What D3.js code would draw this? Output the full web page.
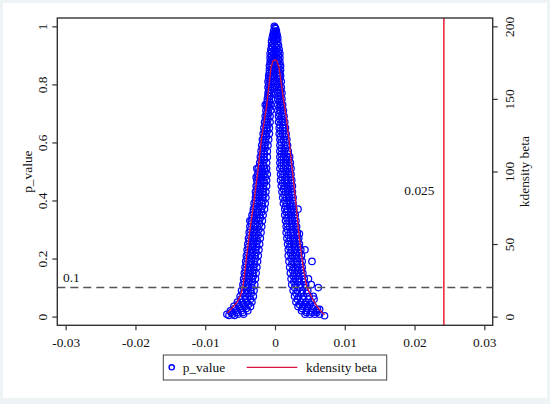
<!DOCTYPE html>
<html>
<head>
<meta charset="utf-8">
<script src="https://cdn.jsdelivr.net/npm/d3@7"></script>
<style>
  body { margin: 0; background: #eef4f5; }
  svg { display: block; }
  text { font-family: "Liberation Serif", "Times New Roman", serif; fill: #111; }
</style>
</head>
<body>
<svg id="chart" width="550" height="404"></svg>
<script>
// tick values
var xTicks = [-0.03, -0.02, -0.01, 0, 0.01, 0.02, 0.03];
var pTicks = [0, 0.2, 0.4, 0.6, 0.8, 1];
var densTicks = [0, 50, 100, 150, 200];

// reference lines
var pCut = 0.1;
var betaCut = 0.0242;

// p_value scatter, one row per p level: [p, beta, beta, ...]
var topRows = [
  [1.000, -0.0001],
  [0.996, 0.0000],
  [0.992, 0.0001],
  [0.984, -0.0002, 0.0002],
  [0.978, -0.0001, 0.0001],
  [0.972, -0.0003, 0.0000, 0.0003],
  [0.966, -0.0002, 0.0002],
  [0.960, -0.0004, 0.0000, 0.0004],
  [0.954, -0.0002, 0.0002],
  [0.948, -0.0005, -0.0001, 0.0004],
  [0.940, -0.0003, 0.0003],
  [0.934, -0.0005, 0.0000, 0.0005],
  [0.926, -0.0004, 0.0002],
  [0.920, -0.0006, -0.0001, 0.0006],
  [0.912, -0.0005, 0.0000, 0.0005],
  [0.906, -0.0007, -0.0002, 0.0003, 0.0007],
  [0.898, -0.0005, 0.0000, 0.0005],
  [0.892, -0.0007, -0.0003, 0.0002, 0.0007],
  [0.884, -0.0006, -0.0001, 0.0005],
  [0.878, -0.0007, -0.0003, 0.0003, 0.0007],
  [0.870, -0.0006, 0.0000, 0.0006],
  [0.864, -0.0008, -0.0004, 0.0004, 0.0008]
];

var leftRows = [
  [0.85, -0.0008, -0.0005, -0.0002],
  [0.84, -0.0008, -0.0005],
  [0.83, -0.0009, -0.0006, -0.0003],
  [0.82, -0.0009, -0.0006],
  [0.81, -0.0010, -0.0007, -0.0004],
  [0.80, -0.0009, -0.0006],
  [0.79, -0.0010, -0.0007, -0.0004],
  [0.78, -0.0009, -0.0006],
  [0.77, -0.0010, -0.0008, -0.0005],
  [0.76, -0.0010, -0.0007],
  [0.75, -0.0011, -0.0008, -0.0005],
  [0.74, -0.0011, -0.0008],
  [0.73, -0.0012, -0.0009, -0.0006],
  [0.72, -0.0011, -0.0008],
  [0.71, -0.0013, -0.0010, -0.0006],
  [0.70, -0.0012, -0.0009],
  [0.69, -0.0014, -0.0011, -0.0007],
  [0.68, -0.0013, -0.0010],
  [0.67, -0.0015, -0.0012, -0.0007],
  [0.66, -0.0014, -0.0010],
  [0.65, -0.0016, -0.0012, -0.0008],
  [0.64, -0.0015, -0.0011],
  [0.63, -0.0017, -0.0013, -0.0008],
  [0.62, -0.0016, -0.0012],
  [0.61, -0.0018, -0.0014, -0.0009],
  [0.60, -0.0017, -0.0013],
  [0.59, -0.0019, -0.0015, -0.0010],
  [0.58, -0.0018, -0.0014],
  [0.57, -0.0020, -0.0016, -0.0011],
  [0.56, -0.0019, -0.0015],
  [0.55, -0.0021, -0.0016, -0.0011],
  [0.54, -0.0020, -0.0015],
  [0.53, -0.0022, -0.0017, -0.0012],
  [0.52, -0.0021, -0.0016],
  [0.51, -0.0024, -0.0019, -0.0015, -0.0012],
  [0.50, -0.0023, -0.0018, -0.0014],
  [0.49, -0.0025, -0.0020, -0.0016, -0.0011],
  [0.48, -0.0024, -0.0019, -0.0014],
  [0.47, -0.0026, -0.0021, -0.0017, -0.0012],
  [0.46, -0.0025, -0.0020, -0.0015],
  [0.45, -0.0027, -0.0022, -0.0017, -0.0012],
  [0.44, -0.0026, -0.0021, -0.0016],
  [0.43, -0.0028, -0.0023, -0.0018, -0.0013],
  [0.42, -0.0027, -0.0022, -0.0016],
  [0.41, -0.0028, -0.0023, -0.0018, -0.0013],
  [0.40, -0.0028, -0.0022, -0.0017],
  [0.39, -0.0030, -0.0025, -0.0019, -0.0014],
  [0.38, -0.0029, -0.0023, -0.0018],
  [0.37, -0.0031, -0.0026, -0.0020, -0.0015],
  [0.36, -0.0031, -0.0025, -0.0019],
  [0.35, -0.0033, -0.0027, -0.0022, -0.0017],
  [0.34, -0.0032, -0.0026, -0.0021],
  [0.33, -0.0034, -0.0029, -0.0023, -0.0018],
  [0.32, -0.0034, -0.0028, -0.0022],
  [0.31, -0.0036, -0.0030, -0.0025, -0.0019],
  [0.30, -0.0035, -0.0029, -0.0023],
  [0.29, -0.0037, -0.0031, -0.0026, -0.0020],
  [0.28, -0.0036, -0.0030, -0.0024],
  [0.27, -0.0038, -0.0032, -0.0027, -0.0021],
  [0.26, -0.0037, -0.0031, -0.0025],
  [0.25, -0.0039, -0.0033, -0.0027, -0.0022],
  [0.24, -0.0038, -0.0032, -0.0026],
  [0.23, -0.0040, -0.0034, -0.0028, -0.0023],
  [0.22, -0.0039, -0.0033, -0.0027],
  [0.21, -0.0041, -0.0035, -0.0029, -0.0024],
  [0.20, -0.0040, -0.0034, -0.0028],
  [0.19, -0.0042, -0.0036, -0.0030, -0.0025],
  [0.18, -0.0041, -0.0035, -0.0029],
  [0.17, -0.0043, -0.0037, -0.0031, -0.0026],
  [0.16, -0.0042, -0.0036, -0.0030],
  [0.15, -0.0044, -0.0038, -0.0032, -0.0027],
  [0.14, -0.0043, -0.0037, -0.0031],
  [0.13, -0.0045, -0.0039, -0.0033, -0.0028],
  [0.12, -0.0044, -0.0038, -0.0032],
  [0.11, -0.0046, -0.0040, -0.0034, -0.0029],
  [0.10, -0.0045, -0.0039, -0.0033],
  [0.09, -0.0048, -0.0041, -0.0035, -0.0030],
  [0.08, -0.0046, -0.0040, -0.0034],
  [0.07, -0.0050, -0.0043, -0.0037, -0.0031],
  [0.06, -0.0049, -0.0042, -0.0035],
  [0.05, -0.0054, -0.0047, -0.0040, -0.0033],
  [0.042, -0.0053, -0.0045, -0.0038],
  [0.035, -0.0059, -0.0051, -0.0043, -0.0035],
  [0.028, -0.0058, -0.0049, -0.0041],
  [0.02, -0.0064, -0.0056, -0.0048, -0.0039],
  [0.014, -0.0063, -0.0054, -0.0046],
  [0.008, -0.0069, -0.0061, -0.0053, -0.0045],
  [0.004, -0.0066, -0.0058]
];

var rightRows = [
  [0.85, 0.0002, 0.0005, 0.0008],
  [0.84, 0.0004, 0.0007],
  [0.83, 0.0003, 0.0006, 0.0008],
  [0.82, 0.0004, 0.0007],
  [0.81, 0.0003, 0.0006, 0.0009],
  [0.80, 0.0004, 0.0007],
  [0.79, 0.0003, 0.0006, 0.0009],
  [0.78, 0.0005, 0.0008],
  [0.77, 0.0004, 0.0007, 0.0010],
  [0.76, 0.0005, 0.0008],
  [0.75, 0.0004, 0.0007, 0.0010],
  [0.74, 0.0006, 0.0009],
  [0.73, 0.0004, 0.0008, 0.0011],
  [0.72, 0.0006, 0.0010],
  [0.71, 0.0004, 0.0008, 0.0012],
  [0.70, 0.0006, 0.0011],
  [0.69, 0.0005, 0.0009, 0.0013],
  [0.68, 0.0007, 0.0011],
  [0.67, 0.0005, 0.0010, 0.0014],
  [0.66, 0.0007, 0.0012],
  [0.65, 0.0006, 0.0011, 0.0015],
  [0.64, 0.0008, 0.0013],
  [0.63, 0.0006, 0.0011, 0.0016],
  [0.62, 0.0008, 0.0014],
  [0.61, 0.0007, 0.0012, 0.0017],
  [0.60, 0.0009, 0.0015],
  [0.59, 0.0007, 0.0013, 0.0018],
  [0.58, 0.0009, 0.0015],
  [0.57, 0.0007, 0.0013, 0.0019],
  [0.56, 0.0009, 0.0014, 0.0019],
  [0.55, 0.0007, 0.0012, 0.0017, 0.0021],
  [0.54, 0.0009, 0.0015, 0.0020],
  [0.53, 0.0007, 0.0012, 0.0017, 0.0022],
  [0.52, 0.0009, 0.0015, 0.0021],
  [0.51, 0.0007, 0.0012, 0.0018, 0.0023],
  [0.50, 0.0010, 0.0016, 0.0021],
  [0.49, 0.0008, 0.0013, 0.0019, 0.0023],
  [0.48, 0.0010, 0.0016, 0.0022],
  [0.47, 0.0008, 0.0014, 0.0019, 0.0024],
  [0.46, 0.0011, 0.0017, 0.0023],
  [0.45, 0.0009, 0.0014, 0.0020, 0.0025],
  [0.44, 0.0012, 0.0018, 0.0023],
  [0.43, 0.0010, 0.0015, 0.0020, 0.0025],
  [0.42, 0.0013, 0.0019, 0.0024],
  [0.41, 0.0011, 0.0016, 0.0021, 0.0026],
  [0.40, 0.0014, 0.0020, 0.0025],
  [0.39, 0.0012, 0.0017, 0.0022, 0.0026],
  [0.38, 0.0015, 0.0021, 0.0025],
  [0.37, 0.0014, 0.0018, 0.0023, 0.0027, 0.0033],
  [0.36, 0.0016, 0.0022, 0.0027],
  [0.35, 0.0014, 0.0019, 0.0024, 0.0029],
  [0.34, 0.0017, 0.0023, 0.0028],
  [0.33, 0.0015, 0.0020, 0.0025, 0.0030],
  [0.32, 0.0017, 0.0024, 0.0029],
  [0.31, 0.0016, 0.0021, 0.0026, 0.0031],
  [0.30, 0.0018, 0.0025, 0.0030],
  [0.29, 0.0016, 0.0022, 0.0027, 0.0032],
  [0.28, 0.0019, 0.0026, 0.0032],
  [0.27, 0.0017, 0.0022, 0.0028, 0.0034],
  [0.26, 0.0020, 0.0027, 0.0033],
  [0.25, 0.0018, 0.0023, 0.0029, 0.0035],
  [0.24, 0.0021, 0.0028, 0.0034],
  [0.23, 0.0019, 0.0024, 0.0030, 0.0037, 0.0043],
  [0.22, 0.0022, 0.0029, 0.0035],
  [0.21, 0.0019, 0.0025, 0.0031, 0.0038],
  [0.20, 0.0023, 0.0030, 0.0036],
  [0.19, 0.0020, 0.0026, 0.0032, 0.0039, 0.0053],
  [0.18, 0.0024, 0.0031, 0.0037],
  [0.17, 0.0021, 0.0027, 0.0033, 0.0039],
  [0.16, 0.0025, 0.0032, 0.0038],
  [0.15, 0.0022, 0.0028, 0.0034, 0.0040],
  [0.14, 0.0026, 0.0033, 0.0039],
  [0.13, 0.0023, 0.0029, 0.0035, 0.0042, 0.0048],
  [0.12, 0.0027, 0.0034, 0.0041],
  [0.11, 0.0024, 0.0030, 0.0037, 0.0044, 0.0052],
  [0.10, 0.0028, 0.0036, 0.0043, 0.0062],
  [0.09, 0.0026, 0.0032, 0.0039, 0.0047],
  [0.08, 0.0030, 0.0038, 0.0045],
  [0.07, 0.0028, 0.0034, 0.0041, 0.0049, 0.0055],
  [0.06, 0.0032, 0.0040, 0.0048],
  [0.05, 0.0030, 0.0037, 0.0044, 0.0052],
  [0.042, 0.0035, 0.0043, 0.0050],
  [0.035, 0.0033, 0.0040, 0.0047, 0.0055],
  [0.028, 0.0039, 0.0047, 0.0054],
  [0.025, 0.0061, 0.0064],
  [0.02, 0.0038, 0.0045, 0.0052, 0.0059],
  [0.014, 0.0045, 0.0053, 0.0060],
  [0.008, 0.0043, 0.0050, 0.0057, 0.0064],
  [0.003, 0.0071]
];

var outliers = [
  [-0.0036, 0.33], [-0.0026, 0.51], [-0.0027, 0.48], [-0.0014, 0.73],
  [0.0035, 0.285], [0.0056, 0.06]
];

// kdensity of beta: [beta, density]
var kdens = [
  [-0.0068, 2.5], [-0.0064, 4.6], [-0.0055, 9.5], [-0.0050, 13.8], [-0.0046, 20.5],
  [-0.0043, 32], [-0.0040, 44], [-0.00365, 58], [-0.00305, 78], [-0.00244, 101],
  [-0.0019, 124], [-0.0012, 145], [-0.00085, 160], [-0.0006, 171], [-0.0003, 176],
  [0.0000, 177], [0.0003, 176], [0.0006, 171], [0.00086, 162], [0.0012, 150],
  [0.00165, 136], [0.0020, 122], [0.00248, 101], [0.0030, 78], [0.00347, 55],
  [0.00375, 44], [0.0041, 32], [0.00454, 20.7], [0.0052, 13.8], [0.0058, 8.5],
  [0.0064, 4.6], [0.0071, 1.2]
];

function rowsToPoints(rows) {
  var out = [];
  rows.forEach(function(r) {
    r.slice(1).forEach(function(b) { out.push([b, r[0]]); });
  });
  return out;
}
var points = rowsToPoints(topRows)
  .concat(rowsToPoints(leftRows))
  .concat(rowsToPoints(rightRows))
  .concat(outliers);

var svg = d3.select("#chart");
var plotL = 57.3, plotR = 492.7, plotT = 18, plotB = 325.3;

svg.append("rect").attr("x", 3).attr("y", 3).attr("width", 544).attr("height", 395)
  .attr("fill", "#fff");

var x = d3.scaleLinear().domain([-0.0312, 0.0312]).range([plotL, plotR]);
var yP = d3.scaleLinear().domain([-0.03, 1.0287]).range([plotB, plotT]);
var yD = d3.scaleLinear().domain([-6, 205.74]).range([plotB, plotT]);

var axisColor = "#333";
var fs = "13.4px";

// x axis
var gx = svg.append("g").attr("transform", "translate(0," + plotB + ")")
  .call(d3.axisBottom(x).tickValues(xTicks).tickSize(5)
    .tickFormat(function(d) { return d === 0 ? "0" : d3.format(".2f")(d).replace("\u2212", "-"); }));
gx.select(".domain").remove();
gx.selectAll(".tick line").attr("stroke", axisColor).attr("stroke-width", 1.2);
gx.selectAll(".tick text").attr("y", 21.7).attr("dy", 0).style("font-size", fs);

// left axis
var gl = svg.append("g").attr("transform", "translate(" + plotL + ",0)")
  .call(d3.axisLeft(yP).tickValues(pTicks).tickSize(5).tickFormat(d3.format("")));
gl.select(".domain").remove();
gl.selectAll(".tick line").attr("stroke", axisColor).attr("stroke-width", 1.2);
gl.selectAll(".tick text").attr("x", 0).attr("dy", 0)
  .attr("text-anchor", "middle").attr("transform", "translate(-10.7,0) rotate(-90)")
  .style("font-size", fs);

// right axis
var gr = svg.append("g").attr("transform", "translate(" + plotR + ",0)")
  .call(d3.axisRight(yD).tickValues(densTicks).tickSize(5));
gr.select(".domain").remove();
gr.selectAll(".tick line").attr("stroke", axisColor).attr("stroke-width", 1.2);
gr.selectAll(".tick text").attr("x", 0).attr("dy", 0)
  .attr("text-anchor", "middle").attr("transform", "translate(21.6,0) rotate(-90)")
  .style("font-size", fs);

svg.selectAll(".tick text").attr("fill", "#111");

// axis titles
svg.append("text").attr("transform", "translate(32," + ((plotT + plotB) / 2) + ") rotate(-90)")
  .attr("text-anchor", "middle").style("font-size", fs).text("p_value");
svg.append("text").attr("transform", "translate(528.5," + ((plotT + plotB) / 2) + ") rotate(-90)")
  .attr("text-anchor", "middle").style("font-size", fs).text("kdensity beta");

// scatter
svg.append("g").selectAll("circle").data(points).join("circle")
  .attr("cx", function(d) { return x(d[0]); })
  .attr("cy", function(d) { return yP(d[1]); })
  .attr("r", 3.2)
  .attr("fill", "none")
  .attr("stroke", "#0000ff")
  .attr("stroke-width", 1.25);

// kdensity line
var line = d3.line().x(function(d) { return x(d[0]); }).y(function(d) { return yD(d[1]); });
svg.append("path").datum(kdens).attr("d", line)
  .attr("fill", "none").attr("stroke", "#d8153f").attr("stroke-width", 1.3);

// reference lines
svg.append("line").attr("x1", plotL).attr("x2", plotR).attr("y1", yP(pCut)).attr("y2", yP(pCut))
  .attr("stroke", "#555").attr("stroke-width", 1.5).attr("stroke-dasharray", "8,5");
svg.append("line").attr("x1", x(betaCut)).attr("x2", x(betaCut)).attr("y1", plotT).attr("y2", plotB)
  .attr("stroke", "#ec1c2e").attr("stroke-width", 1.5);

svg.append("text").attr("x", 63).attr("y", 281.7).style("font-size", fs).text("0.1");
svg.append("text").attr("x", 434.5).attr("y", 195).attr("text-anchor", "end")
  .style("font-size", fs).text("0.025");

// frame
svg.append("rect").attr("x", plotL).attr("y", plotT).attr("width", plotR - plotL).attr("height", plotB - plotT)
  .attr("fill", "none").attr("stroke", axisColor).attr("stroke-width", 1.4);

// legend
var lg = svg.append("g");
lg.append("rect").attr("x", 163.3).attr("y", 355).attr("width", 223.4).attr("height", 25)
  .attr("fill", "#fff").attr("stroke", "#444").attr("stroke-width", 1);
lg.append("circle").attr("cx", 171.7).attr("cy", 367.3).attr("r", 2.6)
  .attr("fill", "none").attr("stroke", "#0000ff").attr("stroke-width", 1.4);
lg.append("text").attr("x", 182.7).attr("y", 372).style("font-size", fs).text("p_value");
lg.append("line").attr("x1", 246.7).attr("x2", 297.3).attr("y1", 367.3).attr("y2", 367.3)
  .attr("stroke", "#d8153f").attr("stroke-width", 1.3);
lg.append("text").attr("x", 306).attr("y", 372).style("font-size", fs).text("kdensity beta");
</script>
</body>
</html>
